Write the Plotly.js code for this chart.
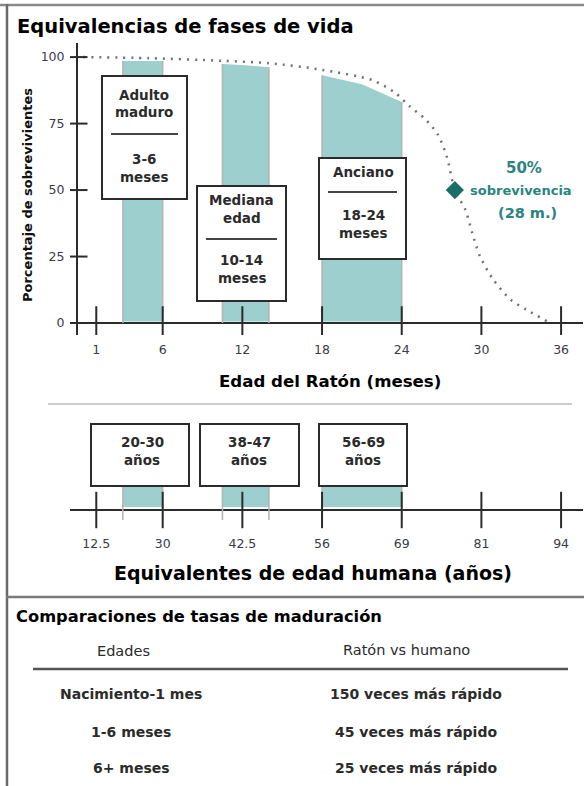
<!DOCTYPE html>
<html>
<head>
<meta charset="utf-8">
<script src="https://cdn.plot.ly/plotly-3.0.1.min.js"></script>
<style>html,body{margin:0;padding:0;background:#fff;}#chart{width:584px;height:786px;}</style>
</head>
<body>
<div id="chart"></div>
<script>
// ---------------- DATA ----------------
const survivalMonths = [0, 5, 10.5, 14, 18, 21.8, 23.5, 24.6, 25.7, 26.7, 27.4, 28, 28.8, 29.3, 29.9, 30.9, 32.2, 33.4, 35];
const survivalPct    = [100, 99.6, 98.6, 97.7, 95.2, 91.3, 86.6, 81.5, 77, 71, 62.5, 50, 42.5, 34, 25, 16.3, 8.8, 5, 0.5];

const mouseTickMonths = [1, 6, 12, 18, 24, 30, 36];
const mouseTickLabels = ['1', '6', '12', '18', '24', '30', '36'];
const humanTickLabels = ['12.5', '30', '42.5', '56', '69', '81', '94'];
const pctTicks = [0, 25, 50, 75, 100];

const stageNames      = [['Adulto', 'maduro'], ['Mediana', 'edad'], ['Anciano']];
const stageRanges     = ['3-6', '10-14', '18-24'];
const stageStartMonth = [3, 10.5, 18];
const stageEndMonth   = [6, 14, 24];
const stageTopStart   = [98.5, 97.4, 93.2];
const stageTopMid     = [98.5, 96.9, 89.8];
const stageTopEnd     = [98.5, 96.2, 83.1];

const humanRanges = ['20-30', '38-47', '56-69'];

const medianMonth = 28;
const medianPct = 50;

const ageGroups = ['Nacimiento-1 mes', '1-6 meses', '6+ meses'];
const fasterTimes = [150, 45, 25];

// ---------------- LAYOUT HELPERS ----------------
const W = 584, H = 786;
const px = x => x / W;
const py = y => 1 - y / H;
const FONT = 'DejaVu Sans, Verdana, sans-serif';
const DARK = '#2b2b2b';
const TEAL_FILL = '#9ccfcd';
const EDGE = '#b3b3b3';
const TEAL_TEXT = '#2a8580';

const X0 = 83, XS = 13.28;              // pixel of month 0, pixels per month
const xRange = [(70 - X0) / XS, (583 - X0) / XS];
const Y_AXIS_X = (77 - X0) / XS;
const xDomain = [px(70), px(583)];

const HUMAN_TOP = 0.575, HUMAN_FILL_BOTTOM = 0.075, HUMAN_EDGE_BOTTOM = -0.25;
const MOUSE_FILL_BOTTOM = 0.6;

const traces = [];

stageStartMonth.forEach((s, i) => {
  const e = stageEndMonth[i], m = (s + e) / 2;
  traces.push({
    type: 'scatter', mode: 'lines', xaxis: 'x', yaxis: 'y',
    x: [s, s, m, e, e, s],
    y: [MOUSE_FILL_BOTTOM, stageTopStart[i], stageTopMid[i], stageTopEnd[i], MOUSE_FILL_BOTTOM, MOUSE_FILL_BOTTOM],
    fill: 'toself', fillcolor: TEAL_FILL, line: {width: 0}, hoverinfo: 'skip', showlegend: false
  });
  traces.push({
    type: 'scatter', mode: 'lines', xaxis: 'x', yaxis: 'y',
    x: [s, s, null, e, e], y: [0, stageTopStart[i], null, 0, stageTopEnd[i]],
    line: {color: EDGE, width: 1.5}, hoverinfo: 'skip', showlegend: false
  });
  traces.push({
    type: 'scatter', mode: 'lines', xaxis: 'x2', yaxis: 'y2',
    x: [s, s, e, e, s], y: [HUMAN_FILL_BOTTOM, HUMAN_TOP, HUMAN_TOP, HUMAN_FILL_BOTTOM, HUMAN_FILL_BOTTOM],
    fill: 'toself', fillcolor: TEAL_FILL, line: {width: 0}, hoverinfo: 'skip', showlegend: false
  });
  traces.push({
    type: 'scatter', mode: 'lines', xaxis: 'x2', yaxis: 'y2',
    x: [s, s, null, e, e], y: [HUMAN_EDGE_BOTTOM, HUMAN_TOP, null, HUMAN_EDGE_BOTTOM, HUMAN_TOP],
    line: {color: EDGE, width: 1.5}, hoverinfo: 'skip', showlegend: false
  });
});

traces.push({
  type: 'scatter', mode: 'lines', xaxis: 'x', yaxis: 'y',
  x: survivalMonths, y: survivalPct,
  line: {color: '#707070', width: 2.5, dash: '2px,6px', shape: 'spline', smoothing: 0.8},
  hoverinfo: 'skip', showlegend: false
});
traces.push({
  type: 'scatter', mode: 'markers', xaxis: 'x', yaxis: 'y',
  x: [medianMonth], y: [medianPct],
  marker: {symbol: 'diamond', size: 14, color: '#1b6e68'}, showlegend: false
});
traces.push({
  type: 'scatter', mode: 'markers', xaxis: 'x', yaxis: 'y',
  x: pctTicks.map(() => Y_AXIS_X), y: pctTicks,
  marker: {symbol: 'line-ew', size: 15, line: {width: 2, color: DARK}}, hoverinfo: 'skip', showlegend: false
});
traces.push({
  type: 'scatter', mode: 'markers', xaxis: 'x', yaxis: 'y',
  x: mouseTickMonths, y: mouseTickMonths.map(() => 0),
  marker: {symbol: 'line-ns', size: 24, line: {width: 2, color: DARK}}, hoverinfo: 'skip', showlegend: false
});
traces.push({
  type: 'scatter', mode: 'markers', xaxis: 'x2', yaxis: 'y2',
  x: mouseTickMonths, y: mouseTickMonths.map(() => 0),
  marker: {symbol: 'line-ns', size: 26, line: {width: 2, color: DARK}}, hoverinfo: 'skip', showlegend: false
});

// ---------------- SHAPES & ANNOTATIONS ----------------
const shapes = [];
const annotations = [];
const line = (x0, y0, x1, y1, color, width) => shapes.push({
  type: 'line', xref: 'paper', yref: 'paper', x0: px(x0), y0: py(y0), x1: px(x1), y1: py(y1),
  line: {color: color, width: width}
});
const rect = (x0, y0, x1, y1) => shapes.push({
  type: 'rect', xref: 'paper', yref: 'paper', x0: px(x0), y0: py(y0), x1: px(x1), y1: py(y1),
  line: {color: DARK, width: 2}, fillcolor: '#ffffff'
});
const text = (t, x, y, size, opts) => annotations.push(Object.assign({
  text: t, xref: 'paper', yref: 'paper', x: px(x), y: py(y), showarrow: false,
  xanchor: 'center', yanchor: 'middle', font: {family: FONT, size: size, color: DARK}
}, opts || {}));
const bold = (size, color) => ({family: FONT, size: size, color: color || DARK, weight: 'bold'});

line(0, 5, 584, 5, '#8a8a8a', 2.5);
line(7, 4, 7, 786, '#6a6a6a', 2.5);
line(6, 597, 584, 597, '#7a7a7a', 2.5);
line(48, 404, 572, 404, '#cccccc', 2);
line(33, 669, 568, 669, '#555555', 2.5);

const boxGeo = [
  {x0: 102, x1: 187, y0: 76, y1: 199, cx: 144, names: [95, 112], div: 134, range: [159, 177]},
  {x0: 197, x1: 286, y0: 186, y1: 301, cx: 241.5, names: [200, 218], div: 239, range: [260, 278]},
  {x0: 319, x1: 406, y0: 158, y1: 259, cx: 363, names: [172], div: 192, range: [215, 233]}
];
boxGeo.forEach((b, i) => {
  rect(b.x0, b.y0, b.x1, b.y1);
  line(b.x0 + 9, b.div, b.x1 - 9, b.div, '#444444', 2);
  stageNames[i].forEach((n, k) => text(n, b.cx, b.names[k], 13.5, {font: bold(13.5)}));
  text(stageRanges[i], b.cx, b.range[0], 13.5, {font: bold(13.5)});
  text('meses', b.cx, b.range[1], 13.5, {font: bold(13.5)});
});

const hBoxGeo = [
  {x0: 91, x1: 189, cx: 142},
  {x0: 200, x1: 299, cx: 249},
  {x0: 319, x1: 407, cx: 363}
];
hBoxGeo.forEach((b, i) => {
  rect(b.x0, 424, b.x1, 486);
  text(humanRanges[i], b.cx, 442, 13.5, {font: bold(13.5)});
  text('años', b.cx, 460, 13.5, {font: bold(13.5)});
});

text('Equivalencias de fases de vida', 15, 26, 19.5, {xanchor: 'left', font: bold(19.5, '#000')});
text('Porcentaje de sobrevivientes', 27, 195, 13, {textangle: -90, font: bold(13, '#111')});
text('Edad del Ratón (meses)', 330, 381, 16.6, {font: bold(16.6, '#000')});
text('Equivalentes de edad humana (años)', 313, 573, 19, {font: bold(19, '#000')});

text('50%', 524, 168, 15, {font: bold(15, TEAL_TEXT)});
text('sobrevivencia', 521, 191, 13, {font: bold(13, TEAL_TEXT)});
text('(' + medianMonth + ' m.)', 527, 213, 14.5, {font: bold(14.5, TEAL_TEXT)});

text('Comparaciones de tasas de maduración', 14, 616, 16.3, {xanchor: 'left', font: bold(16.3, '#000')});
text('Edades', 123, 651, 14.5, {font: {family: FONT, size: 14.5, color: DARK}});
text('Ratón vs humano', 406, 650, 14.5, {font: {family: FONT, size: 14.5, color: DARK}});
const rowY = [694, 732, 768];
ageGroups.forEach((g, i) => {
  text(g, 131, rowY[i], 14, {font: bold(14)});
  text(fasterTimes[i] + ' veces más rápido', 416, rowY[i], 14, {font: bold(14)});
});

const tickFont = {family: FONT, size: 12.5, color: '#3a3a48'};

const layout = {
  width: W, height: H,
  margin: {l: 0, r: 0, t: 0, b: 0},
  paper_bgcolor: '#ffffff', plot_bgcolor: 'rgba(0,0,0,0)',
  showlegend: false,
  xaxis: {
    domain: xDomain, range: xRange, anchor: 'y',
    tickvals: mouseTickMonths, ticktext: mouseTickLabels,
    ticks: 'outside', ticklen: 3, tickcolor: 'rgba(0,0,0,0)',
    showgrid: false, zeroline: false, showline: false, tickfont: tickFont, fixedrange: true
  },
  yaxis: {
    domain: [py(335), py(43)], range: [-4.5, 105.3], anchor: 'free', position: px(77),
    tickvals: pctTicks, ticks: 'outside', ticklen: 9, tickcolor: 'rgba(0,0,0,0)',
    showline: true, linecolor: DARK, linewidth: 2,
    showgrid: false, zeroline: true, zerolinecolor: DARK, zerolinewidth: 2,
    tickfont: tickFont, fixedrange: true
  },
  xaxis2: {
    domain: xDomain, range: xRange, anchor: 'y2',
    tickvals: mouseTickMonths, ticktext: humanTickLabels,
    ticks: 'outside', ticklen: 2, tickcolor: 'rgba(0,0,0,0)',
    showgrid: false, zeroline: false, showline: false, tickfont: tickFont, fixedrange: true
  },
  yaxis2: {
    domain: [py(530), py(470)], range: [-0.5, 1.0], anchor: 'x2',
    showticklabels: false, ticks: '', showgrid: false,
    zeroline: true, zerolinecolor: DARK, zerolinewidth: 2, showline: false, fixedrange: true
  },
  shapes: shapes,
  annotations: annotations
};

Plotly.newPlot('chart', traces, layout, {displayModeBar: false, staticPlot: true});
</script>
</body>
</html>
